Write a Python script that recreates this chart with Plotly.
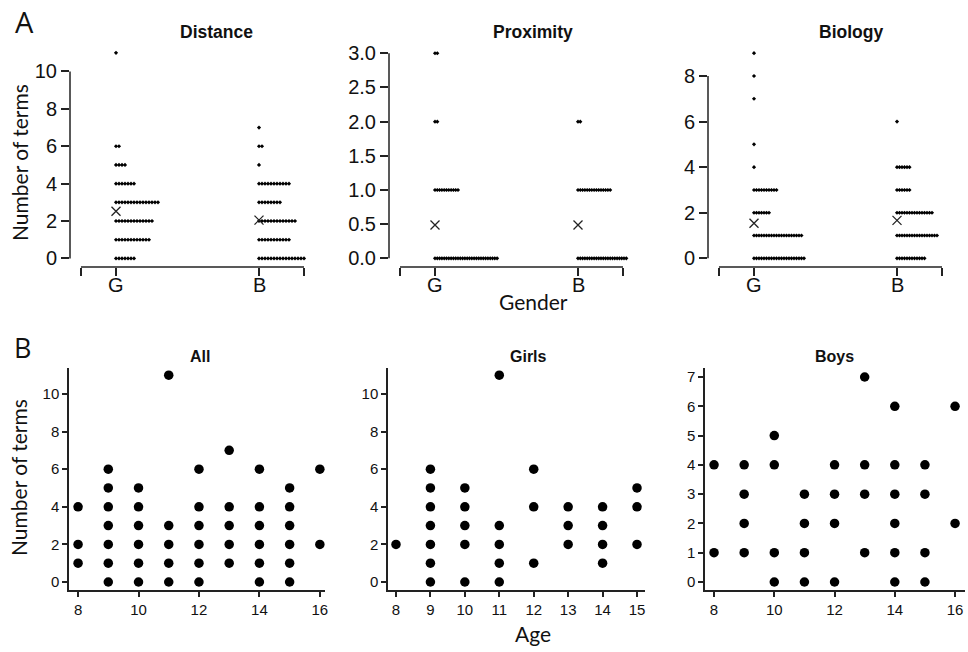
import plotly.graph_objects as go

# ---------------- Data ----------------
# Panel A: number of pupils giving each number of terms, by gender (G = girls, B = boys)
groups = ["G", "B"]
distance_values = [0, 1, 2, 3, 4, 5, 6, 7, 11]
distance_G = [7, 12, 13, 15, 7, 4, 2, 0, 1]
distance_B = [16, 11, 13, 8, 11, 1, 2, 1, 0]

proximity_values = [0, 1, 2, 3]
proximity_G = [28, 11, 2, 2]
proximity_B = [22, 15, 2, 0]

biology_values = [0, 1, 2, 3, 4, 5, 6, 7, 8, 9]
biology_G = [21, 20, 7, 10, 1, 1, 0, 1, 1, 1]
biology_B = [12, 17, 15, 6, 6, 0, 1, 0, 0, 0]

# Panel B: number of terms by age
all_age = [8, 8, 8, 9, 9, 9, 9, 9, 9, 9, 10, 10, 10, 10, 10, 10, 11, 11, 11, 11, 11,
           12, 12, 12, 12, 12, 12, 13, 13, 13, 13, 13, 14, 14, 14, 14, 14, 14,
           15, 15, 15, 15, 15, 15, 16, 16]
all_terms = [1, 2, 4, 0, 1, 2, 3, 4, 5, 6, 0, 1, 2, 3, 4, 5, 0, 1, 2, 3, 11,
             0, 1, 2, 3, 4, 6, 1, 2, 3, 4, 7, 0, 1, 2, 3, 4, 6,
             0, 1, 2, 3, 4, 5, 2, 6]

girls_age = [8, 9, 9, 9, 9, 9, 9, 9, 10, 10, 10, 10, 10, 11, 11, 11, 11, 11,
             12, 12, 12, 13, 13, 13, 14, 14, 14, 14, 15, 15, 15]
girls_terms = [2, 0, 1, 2, 3, 4, 5, 6, 0, 2, 3, 4, 5, 0, 1, 2, 3, 11,
               1, 4, 6, 2, 3, 4, 1, 2, 3, 4, 2, 4, 5]

boys_age = [8, 8, 9, 9, 9, 9, 10, 10, 10, 10, 11, 11, 11, 11, 12, 12, 12, 12,
            13, 13, 13, 13, 14, 14, 14, 14, 14, 14, 15, 15, 15, 15, 16, 16]
boys_terms = [1, 4, 1, 2, 3, 4, 0, 1, 4, 5, 0, 1, 2, 3, 0, 2, 3, 4,
              1, 3, 4, 7, 0, 1, 2, 3, 4, 6, 0, 1, 3, 4, 2, 6]

# ---------------- Layout helpers ----------------
W, H = 968, 652
def xd(p0, p1):
    return [p0 / W, p1 / W]
def yd(p0, p1):  # p0 top pixel, p1 bottom pixel
    return [1 - p1 / H, 1 - p0 / H]

TICKFONT_A = dict(family="Liberation Sans, Arial", size=20, color="#111")
TICKFONT_B = dict(family="Liberation Sans Narrow, Liberation Sans, Arial", size=15, color="#111")
TITLEFONT = dict(family="Liberation Sans, Arial", size=17.5, color="#111")
LABELFONT = dict(family="Lato, Open Sans, sans-serif", size=21, color="#111")

fig = go.Figure()

top_panels = [
    dict(name="Distance", vals=distance_values, G=distance_G, B=distance_B,
         spacing=3.0, xdom=(70, 312), ydom=(50, 267),
         yrange=[-0.46, 11.15], yticks=[0, 2, 4, 6, 8, 10], ytext=None, ymax=10, title_x=216),
    dict(name="Proximity", vals=proximity_values, G=proximity_G, B=proximity_B,
         spacing=2.3, xdom=(389, 631), ydom=(50, 267),
         yrange=[-0.127, 3.048], yticks=[0, 0.5, 1, 1.5, 2, 2.5, 3],
         ytext=["0.0", "0.5", "1.0", "1.5", "2.0", "2.5", "3.0"], ymax=3, title_x=533),
    dict(name="Biology", vals=biology_values, G=biology_G, B=biology_B,
         spacing=2.5, xdom=(708, 950), ydom=(50, 267),
         yrange=[-0.38, 9.14], yticks=[0, 2, 4, 6, 8], ytext=None, ymax=8, title_x=851),
]

PX_PER_UNIT = 143.0
shapes = []
annotations = []

for i, p in enumerate(top_panels):
    idx = i + 1
    xa = "x" if idx == 1 else f"x{idx}"
    ya = "y" if idx == 1 else f"y{idx}"
    # group positions: G = 1, B = 2
    gx0 = 1 - 46 / PX_PER_UNIT
    gx1 = 1 + (p["xdom"][1] - p["xdom"][0] - 46) / PX_PER_UNIT
    step = p["spacing"] / PX_PER_UNIT
    for gpos, counts in ((1, p["G"]), (2, p["B"])):
        xs, ys = [], []
        total, n = 0, 0
        for v, c in zip(p["vals"], counts):
            for k in range(c):
                xs.append(gpos + k * step)
                ys.append(v)
            total += v * c
            n += c
        fig.add_trace(go.Scatter(x=xs, y=ys, mode="markers", xaxis=xa, yaxis=ya,
                                 marker=dict(symbol="diamond", size=3.2, color="#000"),
                                 showlegend=False, hoverinfo="skip"))
        fig.add_trace(go.Scatter(x=[gpos], y=[total / n], mode="markers", xaxis=xa, yaxis=ya,
                                 marker=dict(symbol="x-thin-open", size=9, color="#222",
                                             line=dict(width=1.3, color="#222")),
                                 showlegend=False, hoverinfo="skip"))
    xkey = "xaxis" if idx == 1 else f"xaxis{idx}"
    ykey = "yaxis" if idx == 1 else f"yaxis{idx}"
    fig.layout[xkey] = dict(domain=xd(*p["xdom"]), range=[gx0, gx1], anchor=ya,
                            showgrid=False, zeroline=False, showline=False, automargin=False,
                            tickmode="array", tickvals=[0.755, 1, 2, 2.315],
                            showticklabels=False, ticks="outside", ticklen=8,
                            tickwidth=1.5, tickcolor="#222")
    ydict = dict(domain=yd(*p["ydom"]), range=p["yrange"], anchor=xa,
                 showgrid=False, zeroline=False, showline=False, automargin=False,
                 tickmode="array", tickvals=p["yticks"], ticks="outside", ticklen=8,
                 tickwidth=1.5, tickcolor="#222", tickfont=TICKFONT_A)
    if p["ytext"]:
        ydict["ticktext"] = p["ytext"]
    fig.layout[ykey] = ydict
    # category labels placed close to the bracket axis (R style)
    for gpos, g in zip((1, 2), groups):
        annotations.append(dict(text=g, x=gpos, xref=xa, y=1 - 285 / H, yref="paper",
                                showarrow=False, font=TICKFONT_A,
                                xanchor="center", yanchor="middle"))
    # R-style axis lines spanning only the tick range
    shapes.append(dict(type="line", xref=f"{xa} domain", yref=ya, x0=0, x1=0,
                       y0=0, y1=p["ymax"], line=dict(color="#222", width=1.5)))
    shapes.append(dict(type="line", xref=xa, yref=f"{ya} domain", x0=0.755, x1=2.315,
                       y0=0, y1=0, line=dict(color="#222", width=1.5)))
    annotations.append(dict(text=f"<b>{p['name']}</b>", x=p["title_x"] / W, y=1 - 32 / H,
                            xref="paper", yref="paper", showarrow=False, font=TITLEFONT,
                            xanchor="center", yanchor="middle"))

bottom_panels = [
    dict(name="All", x=all_age, y=all_terms, xdom=(69, 325), xrange=[7.70, 16.17],
         xticks=[8, 10, 12, 14, 16], yrange=[-0.426, 11.38], yticks=[0, 2, 4, 6, 8, 10],
         title_x=200),
    dict(name="Girls", x=girls_age, y=girls_terms, xdom=(388, 645), xrange=[7.768, 15.232],
         xticks=[8, 9, 10, 11, 12, 13, 14, 15], yrange=[-0.426, 11.38],
         yticks=[0, 2, 4, 6, 8, 10], title_x=528),
    dict(name="Boys", x=boys_age, y=boys_terms, xdom=(705, 965), xrange=[7.70, 16.33],
         xticks=[8, 10, 12, 14, 16], yrange=[-0.273, 7.307],
         yticks=[0, 1, 2, 3, 4, 5, 6, 7], title_x=834),
]

for j, p in enumerate(bottom_panels):
    idx = j + 4
    xa, ya = f"x{idx}", f"y{idx}"
    fig.add_trace(go.Scatter(x=p["x"], y=p["y"], mode="markers", xaxis=xa, yaxis=ya,
                             marker=dict(symbol="circle", size=9.5, color="#000"),
                             showlegend=False, hoverinfo="skip", cliponaxis=False))
    fig.layout[f"xaxis{idx}"] = dict(domain=xd(*p["xdom"]), range=p["xrange"], anchor=ya,
                                     showgrid=False, zeroline=False, showline=True,
                                     automargin=False,
                                     linecolor="#222", linewidth=1.5,
                                     tickmode="array", tickvals=p["xticks"], ticks="outside",
                                     ticklen=5, tickwidth=1.5, tickcolor="#222",
                                     tickfont=TICKFONT_B)
    fig.layout[f"yaxis{idx}"] = dict(domain=yd(368, 590), range=p["yrange"], anchor=xa,
                                     showgrid=False, zeroline=False, showline=True,
                                     automargin=False,
                                     linecolor="#222", linewidth=1.5,
                                     tickmode="array", tickvals=p["yticks"], ticks="outside",
                                     ticklen=5, tickwidth=1.5, tickcolor="#222",
                                     tickfont=TICKFONT_B)
    annotations.append(dict(text=f"<b>{p['name']}</b>", x=p["title_x"] / W, y=1 - 357 / H,
                            xref="paper", yref="paper", showarrow=False,
                            font=dict(family="Liberation Sans, Arial", size=16, color="#111"),
                            xanchor="center", yanchor="middle"))

# Panel letters and shared labels
annotations += [
    dict(text="A", x=24 / W, y=1 - 21 / H, xref="paper", yref="paper", showarrow=False,
         font=dict(family="Open Sans, sans-serif", size=29, color="#111"),
         xanchor="center", yanchor="middle"),
    dict(text="B", x=22 / W, y=1 - 347 / H, xref="paper", yref="paper", showarrow=False,
         font=dict(family="Open Sans, sans-serif", size=27, color="#111"),
         xanchor="center", yanchor="middle"),
    dict(text="Gender", x=533 / W, y=1 - 301 / H, xref="paper", yref="paper",
         showarrow=False, font=LABELFONT, xanchor="center", yanchor="middle"),
    dict(text="Age", x=533 / W, y=1 - 633 / H, xref="paper", yref="paper",
         showarrow=False, font=LABELFONT, xanchor="center", yanchor="middle"),
    dict(text="Number of terms", x=19 / W, y=1 - 163 / H, xref="paper", yref="paper",
         showarrow=False, font=LABELFONT, textangle=-90, xanchor="center", yanchor="middle"),
    dict(text="Number of terms", x=18 / W, y=1 - 478 / H, xref="paper", yref="paper",
         showarrow=False, font=LABELFONT, textangle=-90, xanchor="center", yanchor="middle"),
]

fig.update_layout(template="none", width=W, height=H, margin=dict(l=0, r=0, t=0, b=0),
                  paper_bgcolor="white", plot_bgcolor="white",
                  shapes=shapes, annotations=annotations, showlegend=False)

fig.write_html("out.html", config={"displayModeBar": False},
               post_script="document.body.style.margin='0';document.body.style.overflow='hidden';")
